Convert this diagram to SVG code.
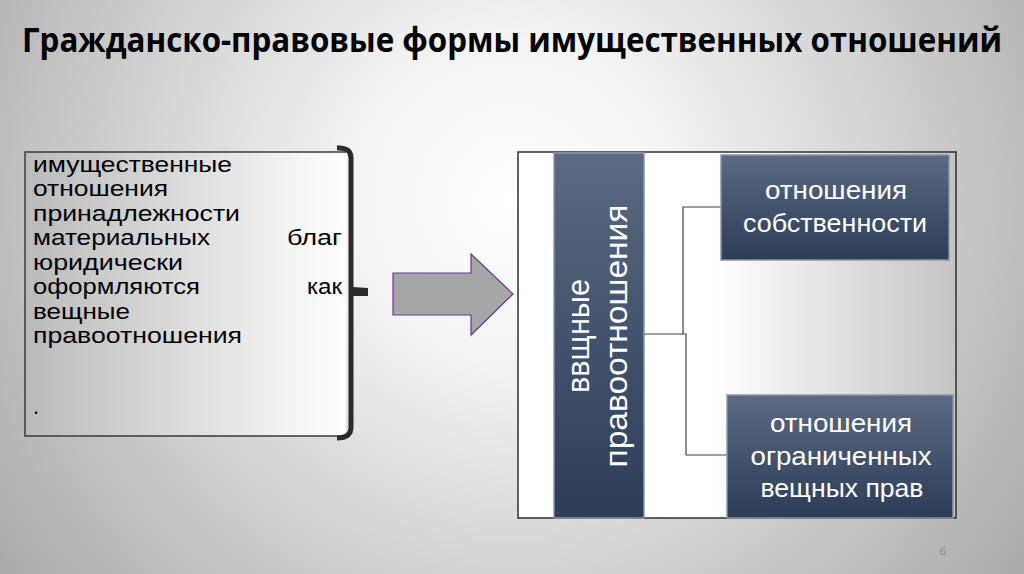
<svg xmlns="http://www.w3.org/2000/svg" width="1024" height="574" viewBox="0 0 1024 574">
<defs>
<radialGradient id="bg" cx="512" cy="200" r="640" gradientUnits="userSpaceOnUse">
<stop offset="0" stop-color="#ffffff"/>
<stop offset="0.25" stop-color="#f4f4f4"/>
<stop offset="1" stop-color="#a9a9a9"/>
</radialGradient>
<linearGradient id="lbox" x1="0" y1="0" x2="1" y2="0">
<stop offset="0" stop-color="#bababa"/>
<stop offset="1" stop-color="#ffffff"/>
</linearGradient>
<linearGradient id="rbox" x1="0" y1="0" x2="1" y2="0">
<stop offset="0" stop-color="#ffffff"/>
<stop offset="0.45" stop-color="#ffffff"/>
<stop offset="1" stop-color="#c4c4c4"/>
</linearGradient>
<linearGradient id="navy" x1="0" y1="0" x2="0" y2="1">
<stop offset="0" stop-color="#5b6a82"/>
<stop offset="1" stop-color="#2d3c57"/>
</linearGradient>
<style>
.lt{font-family:"Liberation Sans",Arial,sans-serif;font-size:21.9px;fill:#000}
.wt{font-family:"Liberation Sans",Arial,sans-serif;font-size:25px;fill:#ffffff;text-anchor:middle}
.vt{font-family:"Liberation Sans",Arial,sans-serif;font-size:31px;fill:#ffffff;text-anchor:middle}
.node{fill:url(#navy);stroke:#8a96a8;stroke-width:1.5}
.con{fill:none;stroke:#404040;stroke-width:1.2}
</style>
</defs>
<rect width="1024" height="574" fill="url(#bg)"/>
<text transform="translate(512,52) scale(1,1.1)" x="0" y="0" text-anchor="middle" font-family="'Open Sans','Noto Sans',sans-serif" font-weight="bold" font-size="31" textLength="980" lengthAdjust="spacingAndGlyphs" fill="#000">Гражданско-правовые формы имущественных отношений</text>

<g id="left-box">
<path d="M346,152 L25,152 L25,436 L346,436" fill="url(#lbox)" stroke="#3a3a3a" stroke-width="1.5"/>
<text class="lt" x="33" y="172" textLength="199" lengthAdjust="spacingAndGlyphs">имущественные</text>
<text class="lt" x="33" y="196" textLength="135" lengthAdjust="spacingAndGlyphs">отношения</text>
<text class="lt" x="33" y="221" textLength="207" lengthAdjust="spacingAndGlyphs">принадлежности</text>
<text class="lt" x="33" y="245" textLength="177" lengthAdjust="spacingAndGlyphs">материальных</text>
<text class="lt" x="287" y="245" textLength="55" lengthAdjust="spacingAndGlyphs">благ</text>
<text class="lt" x="33" y="270" textLength="150" lengthAdjust="spacingAndGlyphs">юридически</text>
<text class="lt" x="33" y="294" textLength="167" lengthAdjust="spacingAndGlyphs">оформляются</text>
<text class="lt" x="307" y="294" textLength="35" lengthAdjust="spacingAndGlyphs">как</text>
<text class="lt" x="33" y="319" textLength="97" lengthAdjust="spacingAndGlyphs">вещные</text>
<text class="lt" x="33" y="343" textLength="209" lengthAdjust="spacingAndGlyphs">правоотношения</text>
<text class="lt" x="33" y="414" font-size="14">.</text>
</g>

<g id="bracket">
<path d="M337,148 Q351,147 351,158 L351,427 Q351,438 337,438" fill="none" stroke="#2b2b2b" stroke-width="5"/>
<path d="M352,287 L368,288 L368,296 L352,296 Z" fill="#2b2b2b"/>
</g>

<g id="arrow">
<path d="M393,273 L471,273 L471,254 L513,294 L471,335 L471,315 L393,315 Z" fill="#a6a6a6" stroke="#7030a0" stroke-width="1.2"/>
</g>

<g id="right-box">
<rect x="518" y="152" width="438" height="366" fill="url(#rbox)" stroke="#2f2f2f" stroke-width="1.5"/>
</g>

<g id="connectors">
<path class="con" d="M644,334 L683,334 L683,207 L721,207"/>
<path class="con" d="M683,334 L686,334 L686,455 L727,455"/>
</g>

<g id="node-main">
<rect class="node" x="554" y="153" width="90" height="365"/>
<text class="vt" transform="translate(589,336) rotate(-90)" textLength="114" lengthAdjust="spacingAndGlyphs">ввщные</text>
<text class="vt" transform="translate(627,336) rotate(-90)" textLength="263" lengthAdjust="spacingAndGlyphs">правоотношения</text>
</g>

<g id="node-own">
<rect class="node" x="721" y="155" width="228" height="105"/>
<text class="wt" x="836" y="199" textLength="142" lengthAdjust="spacingAndGlyphs">отношения</text>
<text class="wt" x="835" y="232" textLength="184" lengthAdjust="spacingAndGlyphs">собственности</text>
</g>

<g id="node-limited">
<rect class="node" x="727" y="395" width="226" height="123"/>
<text class="wt" x="841" y="432" textLength="142" lengthAdjust="spacingAndGlyphs">отношения</text>
<text class="wt" x="841" y="465" textLength="181" lengthAdjust="spacingAndGlyphs">ограниченных</text>
<text class="wt" x="842" y="497" textLength="163" lengthAdjust="spacingAndGlyphs">вещных прав</text>
</g>

<text x="943" y="555" font-family="'Open Sans',sans-serif" font-size="11" fill="#8a8a8a" text-anchor="middle">6</text>
</svg>
